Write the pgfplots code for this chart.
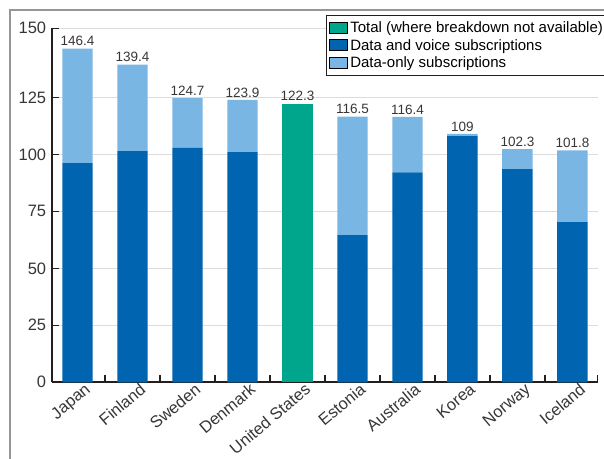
\documentclass[border=0pt]{standalone}
\usepackage{pgfplots}
\pgfplotsset{compat=1.18}
\usepackage{fontspec}
\setmainfont{Liberation Sans}
\definecolor{dv}{RGB}{0,100,177}
\definecolor{donly}{RGB}{122,182,228}
\definecolor{tot}{RGB}{0,166,140}
\definecolor{axc}{RGB}{35,31,32}
\definecolor{frame}{RGB}{150,150,150}
\definecolor{gridc}{RGB}{220,220,220}
\pgfplotsset{
  mybase/.style={
    at={(51.7pt,75.7pt)}, anchor=south west,
    scale only axis, width=546pt, height=354pt,
    xmin=-0.47, xmax=9.46, ymin=0, ymax=155.3,
  }
}
\begin{document}
\begin{tikzpicture}[x=1pt,y=1pt]
\path[use as bounding box, clip] (0,0) rectangle (604,458);
\draw[line width=2pt, frame] (10,-10) -- (10,448) -- (620,448);
\begin{axis}[
  mybase,
  ybar stacked, bar width=30.4pt,
  axis x line*=bottom, axis y line*=left,
  axis line style={line width=2pt, color=axc},
  /pgf/number format/assume math mode=true,
  ytick={0,25,50,75,100,125,155.3},
  yticklabels={0,25,50,75,100,125,150},
  xtick={0.5,1.5,2.5,3.5,4.5,5.5,6.5,7.5,8.5,9.46},
  xticklabels={},
  extra x ticks={0,1,2,3,4,5,6,7,8,9},
  extra x tick labels={Japan,Finland,Sweden,Denmark,United States,Estonia,Australia,Korea,Norway,Iceland},
  extra x tick style={tick style={draw=none}},
  tick align=inside, major tick length=7pt,
  tick style={line width=1.5pt, color=axc},
  ymajorgrids, grid style={line width=1pt, gridc},
  yticklabel style={font=\fontsize{16.5}{16.5}\selectfont, text=axc!90, xshift=-2pt},
  xticklabel style={font=\fontsize{16.5}{16.5}\selectfont, text=axc!90, rotate=40, anchor=north east, inner sep=1pt, xshift=6pt, yshift=-3pt},
  legend style={at={(0.502,1.0376)}, anchor=north west, draw=axc, line width=1pt,
    font=\fontsize{15}{17}\selectfont, inner xsep=3pt, inner ysep=4.5pt, row sep=0.8pt,
    cells={anchor=west}},
  legend cell align=left,
  legend image code/.code={\fill[#1] (0pt,-5.5pt) rectangle (18pt,5.5pt);},
]
\addlegendimage{fill=tot}
\addlegendentry{Total (where breakdown not available)}
\addlegendimage{fill=dv}
\addlegendentry{Data and voice subscriptions}
\addlegendimage{fill=donly}
\addlegendentry{Data-only subscriptions}

\addplot[fill=dv, draw=none, forget plot] coordinates {
  (0,96.2) (1,101.4) (2,102.8) (3,101.0) (4,0) (5,64.6) (6,92.1) (7,108.0) (8,93.5) (9,70.3)};
\addplot[fill=donly, draw=none, forget plot] coordinates {
  (0,50.2) (1,38.0) (2,21.9) (3,22.9) (4,0) (5,51.9) (6,24.3) (7,1.0) (8,8.8) (9,31.5)};
\addplot[fill=tot, draw=none, forget plot] coordinates {
  (0,0) (1,0) (2,0) (3,0) (4,122.3) (5,0) (6,0) (7,0) (8,0) (9,0)};
\end{axis}
\begin{axis}[
  mybase, hide axis,
]
\addplot[draw=none, mark=none,
  nodes near coords, point meta=explicit symbolic,
  every node near coord/.append style={font=\fontsize{13.5}{13.5}\selectfont, text=axc!90, anchor=south, inner sep=1pt, yshift=1.5pt}]
  coordinates {
  (0,146.4) [146.4] (1,139.4) [139.4] (2,124.7) [124.7] (3,123.9) [123.9] (4,122.3) [122.3]
  (5,116.5) [116.5] (6,116.4) [116.4] (7,109) [109] (8,102.3) [102.3] (9,101.8) [101.8]};
\end{axis}
\end{tikzpicture}
\end{document}
